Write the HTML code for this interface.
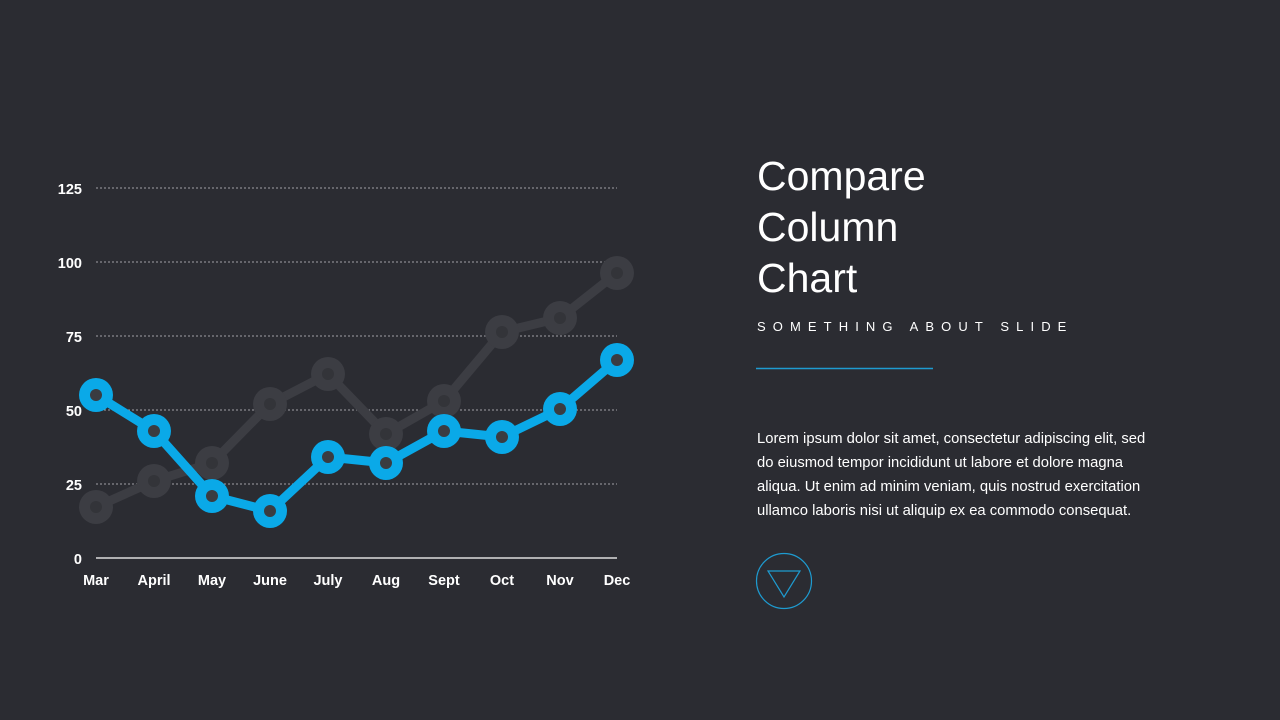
<!DOCTYPE html>
<html><head><meta charset="utf-8"><style>
html,body{margin:0;padding:0;background:#2b2c32;width:1280px;height:720px;overflow:hidden}
svg{position:absolute;left:0;top:0}
.t{position:absolute;color:#fff;font-family:"Liberation Sans",sans-serif}
</style></head><body>
<svg width="1280" height="720" viewBox="0 0 1280 720">
<g stroke="#a0a1a6" stroke-width="1" stroke-dasharray="2,2">
<line x1="96" y1="188" x2="617" y2="188"/>
<line x1="96" y1="262" x2="617" y2="262"/>
<line x1="96" y1="336" x2="617" y2="336"/>
<line x1="96" y1="410" x2="617" y2="410"/>
<line x1="96" y1="484" x2="617" y2="484"/>
</g>
<line x1="96" y1="558" x2="617" y2="558" stroke="#fff" stroke-width="1.2"/>
<g font-family="Liberation Sans,sans-serif" font-size="14.5" font-weight="bold" fill="#fff" text-anchor="end">
<text x="82" y="194">125</text><text x="82" y="268">100</text><text x="82" y="342">75</text>
<text x="82" y="416">50</text><text x="82" y="490">25</text><text x="82" y="564">0</text>
</g>
<g font-family="Liberation Sans,sans-serif" font-size="14.5" font-weight="bold" fill="#fff" text-anchor="middle">
<text x="96" y="585">Mar</text><text x="154" y="585">April</text><text x="212" y="585">May</text>
<text x="270" y="585">June</text><text x="328" y="585">July</text><text x="386" y="585">Aug</text>
<text x="444" y="585">Sept</text><text x="502" y="585">Oct</text><text x="560" y="585">Nov</text>
<text x="617" y="585">Dec</text>
</g>
<polyline fill="none" stroke="#3c3d43" stroke-width="9" stroke-linejoin="round" points="96,507 154,481 212,463 270,404 328,374 386,434 444,401 502,332 560,318 617,273"/>
<g fill="#3c3d43">
<circle cx="96" cy="507" r="17"/><circle cx="154" cy="481" r="17"/><circle cx="212" cy="463" r="17"/><circle cx="270" cy="404" r="17"/><circle cx="328" cy="374" r="17"/><circle cx="386" cy="434" r="17"/><circle cx="444" cy="401" r="17"/><circle cx="502" cy="332" r="17"/><circle cx="560" cy="318" r="17"/><circle cx="617" cy="273" r="17"/>
</g>
<g fill="#333439">
<circle cx="96" cy="507" r="6"/><circle cx="154" cy="481" r="6"/><circle cx="212" cy="463" r="6"/><circle cx="270" cy="404" r="6"/><circle cx="328" cy="374" r="6"/><circle cx="386" cy="434" r="6"/><circle cx="444" cy="401" r="6"/><circle cx="502" cy="332" r="6"/><circle cx="560" cy="318" r="6"/><circle cx="617" cy="273" r="6"/>
</g>
<polyline fill="none" stroke="#0aa9e8" stroke-width="9" stroke-linejoin="round" points="96,395 154,431 212,496 270,511 328,457 386,463 444,431 502,437 560,409 617,360"/>
<g fill="#0aa9e8">
<circle cx="96" cy="395" r="17"/><circle cx="154" cy="431" r="17"/><circle cx="212" cy="496" r="17"/><circle cx="270" cy="511" r="17"/><circle cx="328" cy="457" r="17"/><circle cx="386" cy="463" r="17"/><circle cx="444" cy="431" r="17"/><circle cx="502" cy="437" r="17"/><circle cx="560" cy="409" r="17"/><circle cx="617" cy="360" r="17"/>
</g>
<g fill="#3a3c41">
<circle cx="96" cy="395" r="6"/><circle cx="154" cy="431" r="6"/><circle cx="212" cy="496" r="6"/><circle cx="270" cy="511" r="6"/><circle cx="328" cy="457" r="6"/><circle cx="386" cy="463" r="6"/><circle cx="444" cy="431" r="6"/><circle cx="502" cy="437" r="6"/><circle cx="560" cy="409" r="6"/><circle cx="617" cy="360" r="6"/>
</g>
<line x1="756" y1="368.5" x2="933" y2="368.5" stroke="#1e9bd0" stroke-width="1.5"/>
<circle cx="784" cy="581" r="27.5" fill="none" stroke="#1e9bd0" stroke-width="1.2"/>
<polygon points="768,571 800,571 784,597" fill="none" stroke="#1e9bd0" stroke-width="1.2"/>
</svg>
<div class="t" style="left:757px;top:151px;font-size:41px;line-height:51px">Compare<br>Column<br>Chart</div>
<div class="t" style="left:757px;top:319px;font-size:13px;letter-spacing:7.1px">SOMETHING ABOUT SLIDE</div>
<div class="t" style="left:757px;top:427px;white-space:nowrap;font-size:14.8px;line-height:24px">Lorem ipsum dolor sit amet, consectetur adipiscing elit, sed<br>do eiusmod tempor incididunt ut labore et dolore magna<br>aliqua. Ut enim ad minim veniam, quis nostrud exercitation<br>ullamco laboris nisi ut aliquip ex ea commodo consequat.</div>
</body></html>
